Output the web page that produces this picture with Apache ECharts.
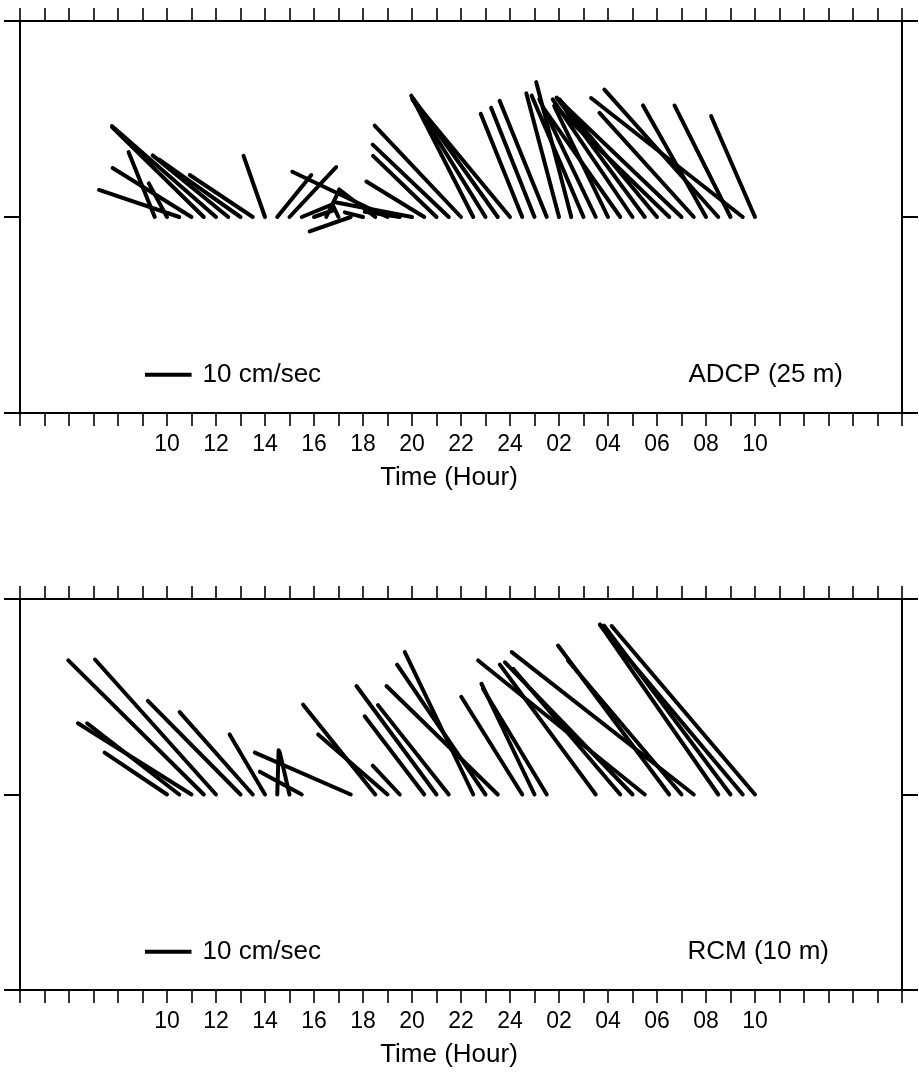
<!DOCTYPE html>
<html><head><meta charset="utf-8">
<script src="https://cdn.jsdelivr.net/npm/echarts@6/dist/echarts.min.js"></script>
<style>html,body{margin:0;padding:0;background:#fff}#c{width:919px;height:1078px}</style>
</head><body><div id="c"></div>
<script>
// ---- axis settings (hours counted from 00:00 of day 1) ----
const T_MIN = 4, T_MAX = 40;
const tickLabelHours = [10,12,14,16,18,20,22,24,26,28,30,32,34];
const V_RANGE = 42;          // cm/sec, half height of each panel
const SCALE_REF = 10;        // cm/sec reference stick

// ---- ADCP (25 m): time (h), east u (cm/s), north v (cm/s) ----
const adcpTime = [9.5,10,10.5,11,11.5,12,12.5,13,13.5,14,14.5,15,15.5,16,16.5,17,17.5,18,18.5,19,19.5,20,20.5,21,21.5,22,22.5,23,23.5,24,24.5,25,25.5,26,26.5,27,27.5,28,28.5,29,29.5,30,30.5,31,31.5,32,32.5,33,33.5,34];
const adcpU = [-5.6,-3.9,-17.2,-16.9,-19.6,-22.3,-16.2,-17.4,-13.5,-4.6,7.3,10.0,6.6,4.3,2.8,-1.3,-8.8,-3.9,-7.7,-20.4,-7.5,-16.2,-12.4,-13.6,-16.3,-18.5,-13.3,-15.6,-18.2,-20.9,-8.9,-9.3,-10.1,-7.0,-7.5,-11.1,-12.1,-11.5,-16.2,-17.1,-18.9,-20.9,-24.6,-26.6,-20.2,-13.5,-24.4,-12.0,-32.5,-9.4];
const adcpV = [13.9,7.2,5.8,10.5,19.2,19.5,13.2,12.3,9.0,13.1,9.0,10.7,2.7,1.5,5.8,2.7,-3.1,1.0,5.9,9.7,1.1,3.1,7.6,13.1,15.5,19.6,26.0,25.2,25.5,25.2,22.1,23.4,24.9,26.5,28.9,26.0,25.2,23.7,23.0,25.2,25.6,25.2,23.9,25.4,22.3,23.9,27.3,23.9,25.5,21.6];

// ---- RCM (10 m) ----
const rcmTime = [10,10.5,11,11.5,12,13,13.5,14,14.5,15,15.5,17.5,18.5,19,19.5,20.5,21,21.5,22.5,23,23.5,24.5,25,25.5,27.5,28.5,29,29.5,30.5,31,31.5,32.5,33,33.5,34];
const rcmU = [-13.4,-19.8,-24.4,-29.1,-26.0,-19.9,-15.7,-7.6,0.3,-2.1,-9.0,-20.6,-15.5,-14.9,-5.8,-12.8,-17.2,-15.2,-14.7,-19.0,-23.9,-13.1,-11.4,-13.7,-20.6,-23.0,-27.4,-35.8,-23.9,-24.4,-39.1,-25.4,-27.2,-30.7,-30.8];
const rcmV = [9.0,15.3,15.3,28.8,29.0,20.1,17.7,12.9,9.5,9.1,4.9,9.0,19.3,12.9,6.2,16.8,23.3,19.2,30.6,27.9,23.3,21.0,23.8,22.7,27.9,27.0,28.4,28.8,32.0,28.8,30.6,36.5,36.3,36.5,36.2];

const panels = [
  {name: 'ADCP (25 m)', time: adcpTime, u: adcpU, v: adcpV},
  {name: 'RCM (10 m)', time: rcmTime, u: rcmU, v: rcmV}
];
const axisTitle = 'Time (Hour)';

const FONT = 'Liberation Sans, Arial, Helvetica, sans-serif';
const FS_TICK = 23, FS_TEXT = 26;
const grids = [
  {left: 20, top: 21, width: 882, height: 392},
  {left: 20, top: 599, width: 882, height: 391}
];

function pad(n){ return (n < 10 ? '0' : '') + n; }
function hourLabel(v){
  if (tickLabelHours.indexOf(v) < 0) return '';
  const h = v % 24;
  return pad(h === 0 ? 24 : h);
}

const xAxis = [], yAxis = [], series = [];
grids.forEach((g, gi) => {
  const lineStyle = {color: '#000', width: 2};
  const tick = {show: true, length: 13, lineStyle: {color: '#000', width: 1.6}};
  xAxis.push({gridIndex: gi, type: 'value', min: T_MIN, max: T_MAX, interval: 1, position: 'bottom',
    axisLine: {show: true, onZero: false, lineStyle}, axisTick: tick, splitLine: {show: false},
    axisLabel: {show: true, formatter: hourLabel, color: '#000', fontFamily: FONT, fontSize: FS_TICK, margin: 20, showMinLabel: true, showMaxLabel: true}});
  xAxis.push({gridIndex: gi, type: 'value', min: T_MIN, max: T_MAX, interval: 1, position: 'top',
    axisLine: {show: true, onZero: false, lineStyle}, axisTick: tick, splitLine: {show: false}, axisLabel: {show: false}});
  const yTick = {show: true, length: 16, lineStyle: {color: '#000', width: 2}};
  yAxis.push({gridIndex: gi, type: 'value', min: -V_RANGE, max: V_RANGE, interval: V_RANGE, position: 'left',
    axisLine: {show: true, onZero: false, lineStyle}, axisTick: yTick, splitLine: {show: false}, axisLabel: {show: false}});
  yAxis.push({gridIndex: gi, type: 'value', min: -V_RANGE, max: V_RANGE, interval: V_RANGE, position: 'right',
    axisLine: {show: true, onZero: false, lineStyle}, axisTick: yTick, splitLine: {show: false}, axisLabel: {show: false}});
});

function hoursPerCm(api, t){
  const p0 = api.coord([t, 0]);
  const pxPerCm = p0[1] - api.coord([t, 1])[1];
  const pxPerHour = api.coord([t + 1, 0])[0] - p0[0];
  return pxPerCm / pxPerHour;
}

panels.forEach((p, pi) => {
  series.push({
    type: 'custom', xAxisIndex: pi * 2, yAxisIndex: pi * 2, clip: false,
    data: p.time.map((t, i) => [t, p.u[i], p.v[i]]),
    encode: {x: 0, y: 2},
    renderItem: function(params, api){
      const t = api.value(0), u = api.value(1), v = api.value(2);
      const k = hoursPerCm(api, t);
      const a = api.coord([t, 0]);
      const b = api.coord([t + u * k, v]);
      return {type: 'line', shape: {x1: a[0], y1: a[1], x2: b[0], y2: b[1]},
        style: {stroke: '#000', lineWidth: 4, lineCap: 'round'}};
    }
  });
  // reference stick (10 cm/sec) with its label
  series.push({
    type: 'custom', xAxisIndex: pi * 2, yAxisIndex: pi * 2, clip: false,
    data: [[9.1, -33.8, SCALE_REF]],
    renderItem: function(params, api){
      const t = api.value(0), y = api.value(1), s = api.value(2);
      const k = hoursPerCm(api, t);
      const a = api.coord([t, y]);
      const b = api.coord([t + s * k, y]);
      return {type: 'group', children: [
        {type: 'line', shape: {x1: a[0], y1: a[1], x2: b[0], y2: b[1]}, style: {stroke: '#000', lineWidth: 4}},
        {type: 'text', x: b[0] + 11, y: a[1], style: {text: s + ' cm/sec', fill: '#000', font: FS_TEXT + 'px ' + FONT, textVerticalAlign: 'middle', textAlign: 'left'}}
      ]};
    }
  });
});

const graphic = [
  {type: 'text', x: 843, y: 375, style: {text: panels[0].name, fill: '#000', font: FS_TEXT + 'px ' + FONT, textAlign: 'right', textVerticalAlign: 'middle'}},
  {type: 'text', x: 829, y: 952, style: {text: panels[1].name, fill: '#000', font: FS_TEXT + 'px ' + FONT, textAlign: 'right', textVerticalAlign: 'middle'}},
  {type: 'text', x: 449, y: 478, style: {text: axisTitle, fill: '#000', font: FS_TEXT + 'px ' + FONT, textAlign: 'center', textVerticalAlign: 'middle'}},
  {type: 'text', x: 449, y: 1055, style: {text: axisTitle, fill: '#000', font: FS_TEXT + 'px ' + FONT, textAlign: 'center', textVerticalAlign: 'middle'}}
];

const chart = echarts.init(document.getElementById('c'), null, {renderer: 'canvas'});
chart.setOption({animation: false, backgroundColor: '#fff', grid: grids, xAxis, yAxis, series, graphic});
</script></body></html>
